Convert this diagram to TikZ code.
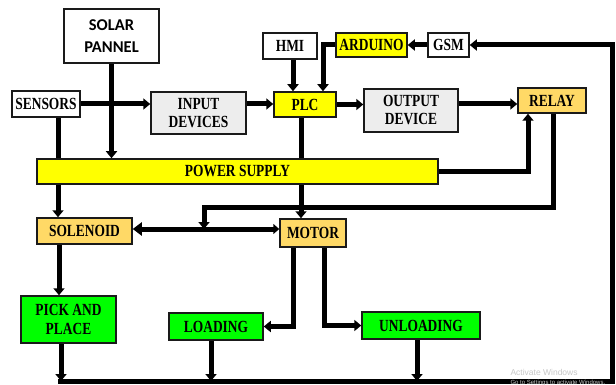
\documentclass[tikz,border=0pt]{standalone}
\usepackage{fontspec}
\setmainfont{Liberation Serif}[FakeStretch=0.79]
\newfontfamily\calib{Carlito}
\newfontfamily\wmfont{Liberation Sans}
\usetikzlibrary{arrows.meta,backgrounds}
\pgfdeclarelayer{bg}
\pgfsetlayers{bg,background,main}
\definecolor{ylw}{HTML}{FFFF00}
\definecolor{org}{HTML}{FFD966}
\definecolor{grn}{HTML}{00FF00}
\definecolor{gry}{HTML}{EDEDED}
\definecolor{edge}{HTML}{1A1A1A}
\tikzset{
  box/.style={draw=edge, line width=1.5pt, inner sep=0pt, align=center,
    font=\fontsize{17}{18}\selectfont\bfseries, text=black},
  conn/.style={line width=5pt, draw=black, -{Triangle[width=11pt,length=7pt]}},
  conn2/.style={line width=5pt, draw=black, {Triangle[width=13pt,length=9pt]}-{Triangle[width=10pt,length=6pt]}},
}
\begin{document}
\begin{tikzpicture}[x=1pt,y=-1pt]
\begin{pgfonlayer}{bg}
\fill[white] (0,0) rectangle (616,385);
\end{pgfonlayer}
\useasboundingbox (0,0) rectangle (616,385);

\node[box, fill=white, minimum width=95pt, minimum height=54pt, font=\calib\fontsize{16.5}{22}\selectfont\bfseries] (solar) at (111.5,36) {SOLAR\\PANNEL};
\node[box, fill=white, minimum width=54pt, minimum height=26pt] (hmi) at (290,46) {HMI};
\node[box, fill=white, minimum width=68pt, minimum height=26pt] (sensors) at (46,104) {SENSORS};
\node[box, fill=gry, minimum width=95pt, minimum height=42pt] (input) at (198.5,113) {INPUT\\DEVICES};
\node[box, fill=ylw, minimum width=62pt, minimum height=25pt] (plc) at (305,104.5) {PLC};
\node[box, fill=ylw, minimum width=401pt, minimum height=25pt] (power) at (237.5,171.5) {POWER SUPPLY};
\node[box, fill=ylw, minimum width=71pt, minimum height=24pt] (arduino) at (371.5,45) {ARDUINO};
\node[box, fill=white, minimum width=41pt, minimum height=24pt] (gsm) at (448.5,45) {GSM};
\node[box, fill=gry, minimum width=94pt, minimum height=43pt] (output) at (411,110.5) {OUTPUT\\DEVICE};
\node[box, fill=org, minimum width=68pt, minimum height=25pt] (relay) at (552,100.5) {RELAY};
\node[box, fill=org, minimum width=95pt, minimum height=26pt] (solenoid) at (84.5,231) {SOLENOID};
\node[box, fill=org, minimum width=66pt, minimum height=28pt] (motor) at (313,233) {MOTOR};
\node[box, fill=grn, minimum width=95pt, minimum height=47pt, font=\fontsize{17}{19}\selectfont\bfseries] (pick) at (68.5,319.5) {PICK AND\\PLACE};
\node[box, fill=grn, minimum width=94pt, minimum height=27pt] (loading) at (216,326.5) {LOADING};
\node[box, fill=grn, minimum width=118pt, minimum height=27pt] (unloading) at (421,325.5) {UNLOADING};

\coordinate (bl) at (58,381);
\coordinate (br) at (612,381);
\coordinate (rk) at (204,229);
\coordinate (rc1) at (553,207);
\coordinate (rc2) at (204,207);

\node[text=black!22, font=\wmfont\fontsize{8.5}{10}\selectfont, anchor=west] (wm1) at (507,372) {Activate Windows};
\node[text=black!22, font=\wmfont\fontsize{6}{7}\selectfont, anchor=west] (wm2) at (507,383) {Go to Settings to activate Windows.};

\begin{pgfonlayer}{background}
\draw[conn] (solar.south) -- (solar.south |- power.north);
\draw[conn] (sensors.east) -- (sensors.east -| input.west);
\draw[conn] ([yshift=9]input.east) -- ([yshift=9]input.east -| plc.west);
\draw[conn] ([xshift=12]sensors.south) -- ([xshift=12]sensors.south |- solenoid.north);
\draw[conn] ([xshift=3]hmi.south) -- ([xshift=3]hmi.south |- plc.north);
\draw[conn] (arduino.west) -| ([xshift=18]plc.north);
\draw[conn] (gsm.west) -- (arduino.east);
\draw[conn] (bl) -- (br) |- (gsm.east);
\draw[conn] (plc.east) -- (plc.east -| output.west);
\draw[conn] ([yshift=6.5]output.east) -- ([yshift=6.5]output.east -| relay.west);
\draw[conn] (power.east) -| ([xshift=-24]relay.south);
\draw[conn] ([xshift=1]relay.south) -- (rc1) -- (rc2) -- (rk);
\draw[conn] ([xshift=-4]plc.south) -- ([xshift=-4]plc.south |- motor.north);
\draw[conn2] ([yshift=2]solenoid.east) -- ([yshift=2]solenoid.east -| motor.west);
\draw[conn] ([xshift=-20]motor.south) |- (loading.east);
\draw[conn] ([xshift=11]motor.south) |- (unloading.west);
\draw[conn] ([xshift=-25.5]solenoid.south) -- ([xshift=-25.5]solenoid.south |- pick.north);
\draw[conn] ([xshift=-7.5]pick.south) -- ([xshift=-7.5]pick.south |- bl);
\draw[conn] ([xshift=-5]loading.south) -- ([xshift=-5]loading.south |- bl);
\draw[conn] ([xshift=-4]unloading.south) -- ([xshift=-4]unloading.south |- bl);
\end{pgfonlayer}
\end{tikzpicture}
\end{document}
